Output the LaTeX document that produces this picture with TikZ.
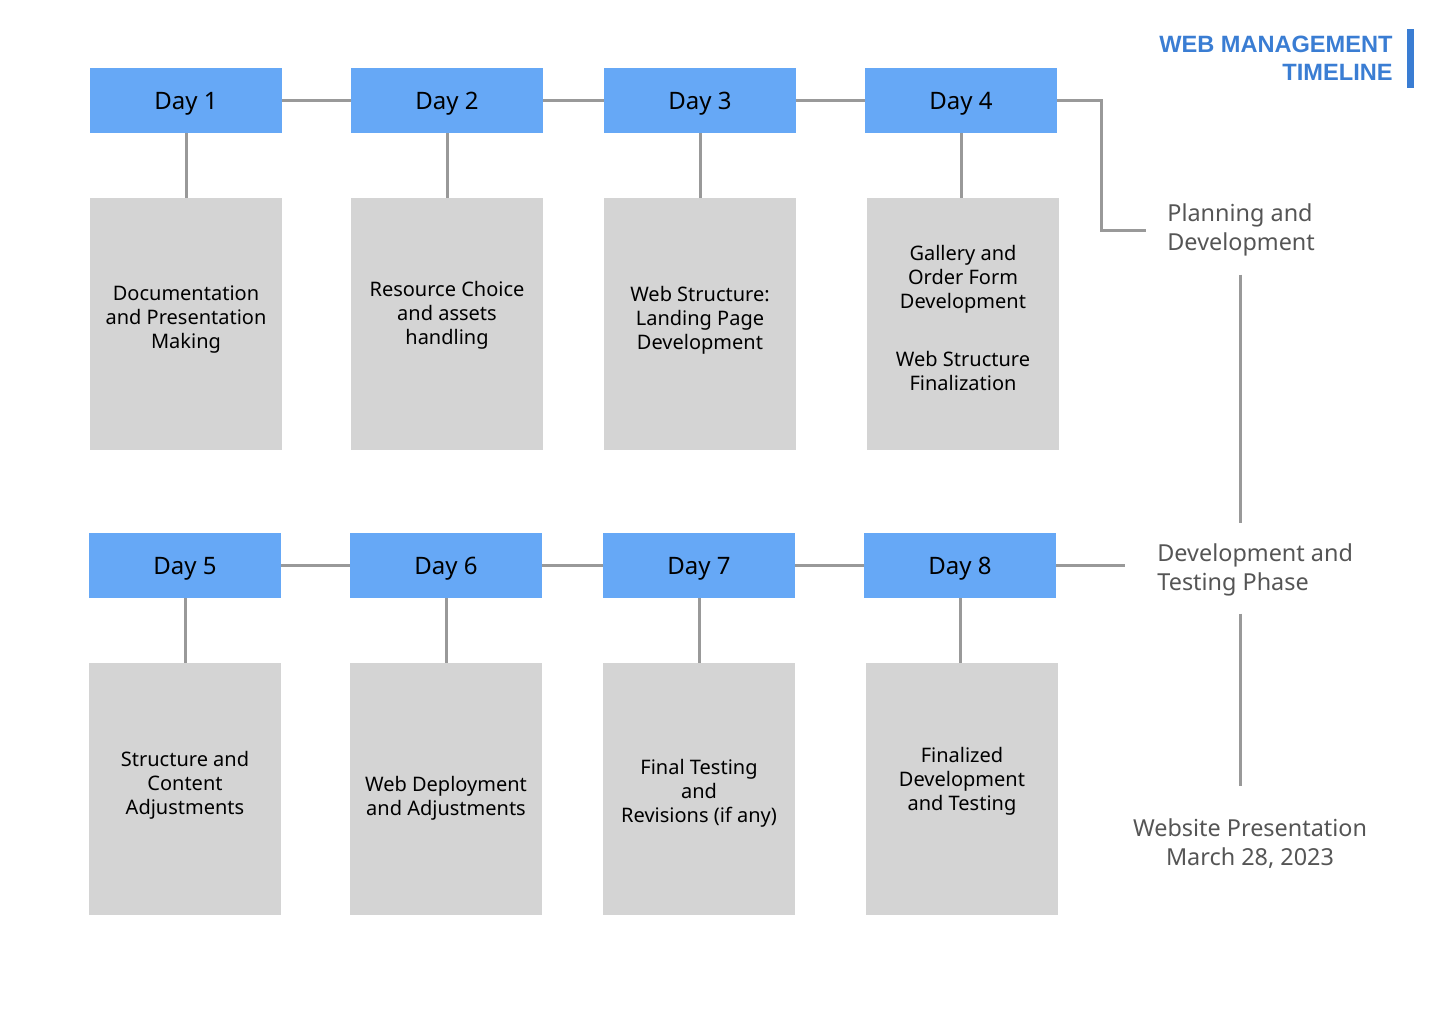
\documentclass[tikz,border=0pt]{standalone}
\usepackage{fontspec}
\setmainfont{Noto Sans}
\newfontfamily\titlefont{Liberation Sans}
\usepackage{xcolor}
\definecolor{dayblue}{RGB}{102,168,246}
\definecolor{boxgray}{RGB}{212,212,212}
\definecolor{linegray}{RGB}{153,153,153}
\definecolor{phasegray}{RGB}{85,85,85}
\definecolor{titleblue}{RGB}{58,125,211}

\begin{document}
\begin{tikzpicture}[
  x=0.5pt, y=-0.5pt,
  day/.style={fill=dayblue,minimum width=96pt,minimum height=32.5pt,inner sep=0pt,text depth=0pt,font=\fontsize{12}{15}\selectfont},
  task/.style={fill=boxgray,minimum width=96pt,minimum height=126pt,inner sep=0pt},
  tasktext/.style={inner sep=0pt,align=center,font=\fontsize{10}{12}\selectfont},
  phase/.style={inner sep=0pt,text=phasegray,font=\fontsize{11.7}{14.5}\selectfont},
  link/.style={draw=linegray,line width=1.5pt}
]
  \useasboundingbox (0,0) rectangle (1440,1024);
  % title
  \node[anchor=east,inner sep=0pt,align=right,text=titleblue,font=\titlefont\bfseries\fontsize{11.8}{14}\selectfont] (title) at (1393,58) {WEB MANAGEMENT\\TIMELINE};
  \fill[titleblue] (1407,29) rectangle (1414,88);
  % first week
  \node[day] (d1) at (186,100.5) {Day 1};
  \node[day] (d2) at (447,100.5) {Day 2};
  \node[day] (d3) at (700,100.5) {Day 3};
  \node[day] (d4) at (961,100.5) {Day 4};
  \node[task] (c1) at (186,324) {};
  \node[task] (c2) at (447,324) {};
  \node[task] (c3) at (700,324) {};
  \node[task] (c4) at (963,324) {};
  \node[tasktext] (t1) at (186,320) {Documentation\\and Presentation\\Making};
  \node[tasktext] (t2) at (447,315) {Resource Choice\\and assets\\handling};
  \node[tasktext] (t3) at (700,320) {Web Structure:\\Landing Page\\Development};
  \node[tasktext] (t4) at (963,317.5) {Gallery and\\Order Form\\Development\\[17pt]Web Structure\\Finalization};
  % second week
  \node[day] (d5) at (185,565.5) {Day 5};
  \node[day] (d6) at (446,565.5) {Day 6};
  \node[day] (d7) at (699,565.5) {Day 7};
  \node[day] (d8) at (960,565.5) {Day 8};
  \node[task] (c5) at (185,789) {};
  \node[task] (c6) at (446,789) {};
  \node[task] (c7) at (699,789) {};
  \node[task] (c8) at (962,789) {};
  \node[tasktext] (t5) at (185,785) {Structure and\\Content\\Adjustments};
  \node[tasktext] (t6) at (446,798) {Web Deployment\\and Adjustments};
  \node[tasktext] (t7) at (699,793) {Final Testing\\and\\Revisions (if any)};
  \node[tasktext] (t8) at (962,781) {Finalized\\Development\\and Testing};
  % phases
  \node[phase,anchor=west,align=left] (ph1) at (1167,230) {Planning and\\Development};
  \node[phase,anchor=west,align=left] (ph2) at (1157,570) {Development and\\Testing Phase};
  \node[phase,align=center] (ph3) at (1250,843.5) {Website Presentation\\March 28, 2023};
  % connectors
  \draw[link] (d1) -- (d2);
  \draw[link] (d2) -- (d3);
  \draw[link] (d3) -- (d4);
  \draw[link] (d5) -- (d6);
  \draw[link] (d6) -- (d7);
  \draw[link] (d7) -- (d8);
  \draw[link] (d1) -- (d1 |- c1.north);
  \draw[link] (d2) -- (d2 |- c2.north);
  \draw[link] (d3) -- (d3 |- c3.north);
  \draw[link] (d4) -- (d4 |- c4.north);
  \draw[link] (d5) -- (d5 |- c5.north);
  \draw[link] (d6) -- (d6 |- c6.north);
  \draw[link] (d7) -- (d7 |- c7.north);
  \draw[link] (d8) -- (d8 |- c8.north);
  \draw[link] (d4.east) -- ++(44,0) |- ([xshift=-10.5pt]ph1.west);
  \draw[link] (d8.east) -- ([xshift=-16pt]d8.east -| ph2.west);
  \coordinate (spine) at (1240,0);
  \draw[link,shorten <=9pt,shorten >=10pt] (spine |- ph1.south) -- (spine |- ph2.north);
  \draw[link,shorten <=8.5pt,shorten >=16pt] (spine |- ph2.south) -- (spine |- ph3.north);
\end{tikzpicture}
\end{document}
